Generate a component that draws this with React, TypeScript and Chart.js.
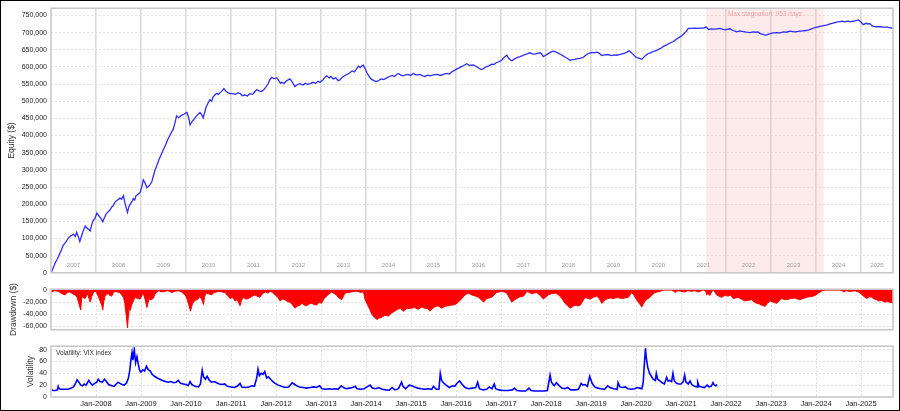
import React, { useEffect, useRef } from 'react';
import { Chart, registerables } from 'chart.js';

Chart.register(...registerables);

const FONT = '"Liberation Sans", Arial, Helvetica, sans-serif';
const X_START = 2007.0;
const X_END = 2025.71;

const yearBandLabels = ['2007', '2008', '2009', '2010', '2011', '2012', '2013', '2014', '2015', '2016', '2017', '2018', '2019', '2020', '2021', '2022', '2023', '2024', '2025'];
const gridYears = [2008, 2009, 2010, 2011, 2012, 2013, 2014, 2015, 2016, 2017, 2018, 2019, 2020, 2021, 2022, 2023, 2024, 2025];
const axisTickLabels = ['Jan-2008', 'Jan-2009', 'Jan-2010', 'Jan-2011', 'Jan-2012', 'Jan-2013', 'Jan-2014', 'Jan-2015', 'Jan-2016', 'Jan-2017', 'Jan-2018', 'Jan-2019', 'Jan-2020', 'Jan-2021', 'Jan-2022', 'Jan-2023', 'Jan-2024', 'Jan-2025'];

const equityTicks = [0, 50000, 100000, 150000, 200000, 250000, 300000, 350000, 400000, 450000, 500000, 550000, 600000, 650000, 700000, 750000];
const drawdownTicks = [-60000, -40000, -20000, 0];
const vixTicks = [0, 20, 40, 60, 80];

const stagnationRange = [2021.56, 2024.17];
const stagnationText = 'Max stagnation: 953 days';

const equityTitle = 'Equity ($)';
const drawdownTitle = 'Drawdown ($)';
const volatilityTitle = 'Volatility';
const volatilityLegend = 'Volatility: VIX index';

// equity in thousands of $ : [decimal year, value]
const equityK: [number, number][] = [
  [2007.00, 0], [2007.04, 12], [2007.09, 28], [2007.14, 40], [2007.18, 52], [2007.23, 66], [2007.27, 80], [2007.32, 88],
  [2007.36, 96], [2007.40, 103], [2007.44, 108], [2007.50, 112], [2007.54, 106], [2007.57, 118], [2007.61, 104], [2007.64, 91],
  [2007.68, 108], [2007.71, 120], [2007.76, 136], [2007.79, 131], [2007.82, 128], [2007.87, 122], [2007.90, 138], [2007.93, 150],
  [2007.98, 160], [2008.02, 174], [2008.07, 165], [2008.11, 158], [2008.15, 149], [2008.19, 162], [2008.22, 170], [2008.27, 178],
  [2008.31, 183], [2008.35, 192], [2008.38, 195], [2008.42, 205], [2008.46, 211], [2008.50, 214], [2008.53, 218], [2008.57, 214],
  [2008.61, 225], [2008.64, 205], [2008.67, 190], [2008.70, 176], [2008.73, 192], [2008.76, 200], [2008.80, 208], [2008.83, 216],
  [2008.86, 212], [2008.89, 225], [2008.93, 228], [2008.98, 234], [2009.02, 252], [2009.05, 271], [2009.09, 262], [2009.13, 248],
  [2009.17, 252], [2009.20, 257], [2009.24, 265], [2009.28, 285], [2009.31, 299], [2009.35, 312], [2009.40, 330], [2009.45, 345],
  [2009.50, 360], [2009.55, 374], [2009.60, 390], [2009.66, 405], [2009.72, 420], [2009.76, 440], [2009.79, 457], [2009.84, 452],
  [2009.89, 458], [2009.95, 462], [2010.02, 467], [2010.06, 452], [2010.09, 431], [2010.13, 440], [2010.18, 448], [2010.24, 458],
  [2010.31, 467], [2010.35, 460], [2010.38, 451], [2010.41, 465], [2010.44, 480], [2010.49, 495], [2010.53, 504], [2010.57, 500],
  [2010.60, 512], [2010.64, 518], [2010.68, 523], [2010.72, 520], [2010.76, 525], [2010.80, 530], [2010.84, 537], [2010.88, 530],
  [2010.93, 525], [2010.98, 522], [2011.04, 522], [2011.10, 520], [2011.15, 524], [2011.20, 523], [2011.25, 516], [2011.31, 518],
  [2011.36, 515], [2011.42, 522], [2011.48, 520], [2011.52, 526], [2011.57, 534], [2011.62, 530], [2011.67, 528], [2011.72, 532],
  [2011.77, 540], [2011.82, 550], [2011.86, 562], [2011.90, 569], [2011.95, 566], [2012.02, 568], [2012.06, 560], [2012.10, 552],
  [2012.13, 555], [2012.18, 552], [2012.22, 558], [2012.27, 562], [2012.31, 565], [2012.36, 556], [2012.42, 543], [2012.47, 548],
  [2012.53, 551], [2012.60, 547], [2012.65, 552], [2012.70, 549], [2012.76, 551], [2012.82, 555], [2012.88, 552], [2012.93, 558],
  [2012.98, 555], [2013.04, 562], [2013.09, 570], [2013.13, 574], [2013.18, 568], [2013.22, 572], [2013.27, 565], [2013.33, 568],
  [2013.38, 560], [2013.42, 562], [2013.47, 570], [2013.53, 575], [2013.58, 578], [2013.64, 583], [2013.69, 588], [2013.74, 585],
  [2013.79, 594], [2013.83, 602], [2013.87, 598], [2013.91, 603], [2013.94, 605], [2013.98, 595], [2014.02, 583], [2014.06, 574],
  [2014.11, 565], [2014.17, 560], [2014.24, 557], [2014.29, 561], [2014.33, 565], [2014.39, 563], [2014.46, 568], [2014.52, 572],
  [2014.58, 575], [2014.63, 572], [2014.68, 578], [2014.72, 581], [2014.77, 576], [2014.83, 574], [2014.88, 577], [2014.93, 578],
  [2014.99, 575], [2015.05, 581], [2015.12, 576], [2015.20, 578], [2015.26, 574], [2015.31, 572], [2015.36, 576], [2015.42, 574],
  [2015.50, 577], [2015.58, 578], [2015.66, 575], [2015.73, 579], [2015.79, 581], [2015.85, 579], [2015.91, 586], [2015.97, 590],
  [2016.02, 594], [2016.07, 597], [2016.11, 600], [2016.17, 604], [2016.24, 609], [2016.30, 604], [2016.38, 606], [2016.44, 602],
  [2016.49, 598], [2016.53, 594], [2016.57, 592], [2016.62, 596], [2016.67, 600], [2016.73, 603], [2016.79, 608], [2016.84, 607],
  [2016.89, 612], [2016.95, 615], [2017.02, 620], [2017.07, 628], [2017.13, 634], [2017.17, 625], [2017.21, 620], [2017.24, 618],
  [2017.31, 624], [2017.37, 628], [2017.42, 630], [2017.48, 633], [2017.53, 636], [2017.58, 638], [2017.64, 641], [2017.70, 638],
  [2017.76, 637], [2017.82, 640], [2017.87, 641], [2017.91, 636], [2017.94, 630], [2017.99, 634], [2018.04, 638], [2018.10, 643],
  [2018.16, 646], [2018.21, 644], [2018.27, 640], [2018.33, 636], [2018.38, 632], [2018.43, 628], [2018.47, 625], [2018.53, 619],
  [2018.58, 621], [2018.64, 622], [2018.70, 624], [2018.76, 625], [2018.83, 628], [2018.88, 634], [2018.94, 639], [2019.02, 642],
  [2019.07, 641], [2019.13, 643], [2019.18, 640], [2019.24, 633], [2019.30, 635], [2019.38, 636], [2019.45, 633], [2019.52, 635],
  [2019.57, 634], [2019.63, 636], [2019.69, 638], [2019.75, 640], [2019.80, 643], [2019.85, 647], [2019.91, 640], [2019.98, 630],
  [2020.04, 626], [2020.09, 624], [2020.13, 622], [2020.20, 632], [2020.27, 639], [2020.32, 641], [2020.36, 644], [2020.41, 646],
  [2020.46, 648], [2020.51, 652], [2020.56, 655], [2020.60, 659], [2020.64, 662], [2020.69, 665], [2020.73, 668], [2020.78, 671],
  [2020.83, 674], [2020.87, 678], [2020.91, 682], [2020.96, 686], [2021.01, 690], [2021.05, 695], [2021.09, 700], [2021.13, 706],
  [2021.16, 712], [2021.23, 712], [2021.31, 713], [2021.36, 712], [2021.42, 713], [2021.49, 713], [2021.56, 716], [2021.61, 709],
  [2021.67, 711], [2021.73, 710], [2021.80, 711], [2021.87, 712], [2021.93, 709], [2021.98, 708], [2022.04, 710], [2022.09, 711],
  [2022.15, 706], [2022.20, 704], [2022.24, 702], [2022.30, 705], [2022.38, 703], [2022.45, 701], [2022.53, 700], [2022.60, 702],
  [2022.66, 701], [2022.71, 702], [2022.76, 697], [2022.82, 695], [2022.87, 692], [2022.93, 695], [2022.98, 697], [2023.05, 699],
  [2023.13, 700], [2023.20, 699], [2023.27, 702], [2023.34, 701], [2023.42, 704], [2023.48, 703], [2023.53, 702], [2023.58, 703],
  [2023.64, 704], [2023.71, 705], [2023.78, 706], [2023.84, 708], [2023.90, 711], [2023.96, 714], [2024.02, 716], [2024.09, 718],
  [2024.16, 720], [2024.23, 722], [2024.31, 725], [2024.36, 727], [2024.42, 729], [2024.48, 731], [2024.53, 732], [2024.58, 733],
  [2024.64, 731], [2024.70, 733], [2024.76, 732], [2024.82, 733], [2024.87, 734], [2024.94, 737], [2024.97, 734], [2025.00, 730],
  [2025.05, 723], [2025.11, 727], [2025.16, 725], [2025.20, 726], [2025.24, 720], [2025.27, 718], [2025.34, 717], [2025.42, 717],
  [2025.50, 716], [2025.58, 716], [2025.65, 714], [2025.71, 713],
];

// drawdown in thousands of $ : [decimal year, value]
const drawdownK: [number, number][] = [
  [2007.00, 0], [2007.01, -3], [2007.08, -1], [2007.16, -2], [2007.22, -5], [2007.31, -8], [2007.36, -4], [2007.42, -3],
  [2007.48, -6], [2007.53, -8], [2007.58, -12], [2007.61, -20], [2007.66, -33], [2007.68, -15], [2007.70, -10], [2007.73, -13],
  [2007.76, -14], [2007.79, -9], [2007.81, -6], [2007.85, -15], [2007.87, -20], [2007.90, -12], [2007.92, -8], [2007.95, -3],
  [2007.98, -2], [2008.01, -4], [2008.05, -10], [2008.09, -18], [2008.13, -26], [2008.15, -33], [2008.17, -20], [2008.20, -10],
  [2008.24, -7], [2008.27, -6], [2008.31, -9], [2008.35, -10], [2008.38, -5], [2008.42, -2], [2008.47, -3], [2008.53, -4],
  [2008.57, -8], [2008.61, -12], [2008.64, -22], [2008.66, -35], [2008.68, -48], [2008.70, -63], [2008.72, -42], [2008.73, -30],
  [2008.76, -34], [2008.79, -25], [2008.83, -18], [2008.87, -12], [2008.92, -14], [2008.98, -15], [2009.02, -9], [2009.05, -5],
  [2009.09, -15], [2009.13, -29], [2009.16, -20], [2009.18, -15], [2009.22, -16], [2009.27, -14], [2009.31, -7], [2009.35, -3],
  [2009.40, -1], [2009.45, -3], [2009.53, -2], [2009.60, -1], [2009.68, -4], [2009.75, -2], [2009.83, -1], [2009.90, -3],
  [2009.98, -8], [2010.02, -14], [2010.06, -24], [2010.10, -35], [2010.13, -26], [2010.16, -20], [2010.21, -17], [2010.27, -15],
  [2010.31, -10], [2010.35, -16], [2010.39, -24], [2010.41, -12], [2010.44, -5], [2010.50, -6], [2010.57, -8], [2010.62, -4],
  [2010.68, -3], [2010.72, -2], [2010.80, -3], [2010.87, -4], [2010.92, -9], [2010.98, -14], [2011.03, -12], [2011.09, -18],
  [2011.14, -16], [2011.20, -26], [2011.23, -18], [2011.27, -12], [2011.33, -15], [2011.39, -14], [2011.45, -11], [2011.53, -8],
  [2011.58, -10], [2011.64, -12], [2011.70, -6], [2011.76, -3], [2011.82, -5], [2011.87, -2], [2011.93, -4], [2011.98, -8],
  [2012.04, -12], [2012.09, -18], [2012.14, -15], [2012.20, -16], [2012.25, -19], [2012.31, -20], [2012.36, -24], [2012.42, -30],
  [2012.47, -27], [2012.53, -25], [2012.58, -22], [2012.63, -25], [2012.68, -26], [2012.74, -23], [2012.79, -22], [2012.85, -24],
  [2012.90, -25], [2012.96, -20], [2013.01, -22], [2013.06, -15], [2013.10, -12], [2013.15, -8], [2013.20, -5], [2013.24, -3],
  [2013.30, -6], [2013.35, -9], [2013.38, -12], [2013.42, -14], [2013.46, -16], [2013.50, -10], [2013.53, -5], [2013.60, -4],
  [2013.68, -3], [2013.74, -2], [2013.79, -2], [2013.85, -3], [2013.90, -4], [2013.94, -2], [2013.98, -16], [2014.03, -24],
  [2014.09, -33], [2014.13, -40], [2014.16, -43], [2014.20, -46], [2014.24, -49], [2014.28, -47], [2014.35, -45], [2014.42, -42],
  [2014.50, -43], [2014.57, -38], [2014.64, -35], [2014.70, -32], [2014.76, -30], [2014.83, -35], [2014.90, -31], [2015.01, -30],
  [2015.08, -29], [2015.16, -32], [2015.24, -28], [2015.31, -30], [2015.37, -31], [2015.42, -35], [2015.48, -30], [2015.53, -28],
  [2015.60, -26], [2015.68, -30], [2015.75, -27], [2015.83, -26], [2015.90, -25], [2015.98, -24], [2016.05, -20], [2016.13, -14],
  [2016.20, -8], [2016.27, -5], [2016.35, -8], [2016.43, -10], [2016.50, -12], [2016.56, -16], [2016.61, -20], [2016.65, -17],
  [2016.68, -14], [2016.74, -13], [2016.79, -12], [2016.85, -8], [2016.90, -4], [2016.96, -3], [2017.01, -2], [2017.07, -3],
  [2017.13, -5], [2017.18, -12], [2017.24, -20], [2017.29, -17], [2017.35, -14], [2017.42, -11], [2017.50, -10], [2017.54, -6],
  [2017.57, -2], [2017.63, -4], [2017.68, -6], [2017.73, -5], [2017.79, -4], [2017.86, -8], [2017.94, -15], [2018.00, -11],
  [2018.05, -8], [2018.12, -6], [2018.20, -5], [2018.26, -7], [2018.31, -10], [2018.37, -16], [2018.42, -22], [2018.48, -26],
  [2018.53, -30], [2018.58, -28], [2018.64, -25], [2018.70, -26], [2018.76, -25], [2018.82, -18], [2018.87, -12], [2018.93, -14],
  [2018.98, -15], [2019.05, -12], [2019.13, -10], [2019.19, -15], [2019.24, -22], [2019.30, -17], [2019.35, -15], [2019.42, -13],
  [2019.50, -14], [2019.58, -12], [2019.68, -14], [2019.75, -13], [2019.83, -12], [2019.90, -4], [2019.95, -8], [2020.01, -16],
  [2020.06, -21], [2020.10, -25], [2020.13, -28], [2020.16, -23], [2020.20, -18], [2020.25, -15], [2020.31, -12], [2020.36, -8],
  [2020.42, -4], [2020.48, -3], [2020.53, -2], [2020.58, -1], [2020.61, 0], [2020.79, 0], [2020.84, -2], [2020.87, -4],
  [2020.90, -2], [2020.94, -1], [2021.00, -2], [2021.09, -3], [2021.15, -1], [2021.24, -2], [2021.30, -1], [2021.39, -3],
  [2021.45, -1], [2021.50, 0], [2021.55, -2], [2021.57, -8], [2021.60, -6], [2021.64, -9], [2021.68, -3], [2021.72, 0],
  [2021.76, -4], [2021.79, -8], [2021.84, -10], [2021.90, -12], [2021.97, -9], [2022.05, -10], [2022.10, -8], [2022.16, -14],
  [2022.22, -13], [2022.27, -12], [2022.34, -15], [2022.42, -18], [2022.50, -17], [2022.57, -16], [2022.63, -20], [2022.68, -22],
  [2022.74, -23], [2022.79, -25], [2022.87, -27], [2022.92, -22], [2022.98, -18], [2023.05, -20], [2023.13, -22], [2023.19, -17],
  [2023.24, -14], [2023.31, -16], [2023.39, -15], [2023.46, -14], [2023.53, -13], [2023.59, -15], [2023.64, -16], [2023.71, -14],
  [2023.79, -12], [2023.86, -11], [2023.94, -10], [2024.00, -8], [2024.05, -5], [2024.10, -3], [2024.13, -1], [2024.20, 0],
  [2024.53, 0], [2024.58, -1], [2024.61, -3], [2024.67, -1], [2024.73, -2], [2024.79, -2], [2024.86, -1], [2024.94, -3],
  [2025.00, -6], [2025.05, -10], [2025.09, -12], [2025.13, -14], [2025.18, -11], [2025.24, -12], [2025.30, -15], [2025.35, -16],
  [2025.39, -18], [2025.45, -17], [2025.53, -20], [2025.58, -19], [2025.64, -20], [2025.68, -21], [2025.71, -22],
];

// VIX index : [decimal year, value]
const vixIndex: [number, number][] = [
  [2007.00, 12], [2007.05, 11], [2007.10, 11], [2007.14, 12], [2007.16, 18], [2007.18, 14], [2007.22, 13], [2007.30, 13],
  [2007.38, 13], [2007.45, 15], [2007.50, 17], [2007.55, 24], [2007.58, 29], [2007.62, 25], [2007.66, 20], [2007.70, 19],
  [2007.74, 22], [2007.78, 20], [2007.84, 28], [2007.88, 23], [2007.92, 20], [2007.97, 23], [2008.02, 25], [2008.05, 30],
  [2008.09, 26], [2008.14, 25], [2008.19, 30], [2008.23, 26], [2008.28, 21], [2008.35, 19], [2008.40, 18], [2008.45, 22],
  [2008.49, 25], [2008.53, 23], [2008.58, 21], [2008.63, 20], [2008.68, 24], [2008.72, 32], [2008.75, 45], [2008.78, 65],
  [2008.80, 75], [2008.82, 62], [2008.85, 80], [2008.88, 58], [2008.91, 68], [2008.94, 55], [2008.97, 45], [2009.00, 42],
  [2009.04, 46], [2009.08, 44], [2009.12, 52], [2009.16, 46], [2009.20, 44], [2009.25, 38], [2009.30, 35], [2009.36, 32],
  [2009.42, 30], [2009.48, 28], [2009.54, 26], [2009.60, 25], [2009.66, 26], [2009.72, 24], [2009.78, 25], [2009.83, 28],
  [2009.88, 23], [2009.94, 22], [2010.00, 21], [2010.05, 19], [2010.09, 26], [2010.13, 21], [2010.20, 18], [2010.28, 17],
  [2010.32, 22], [2010.36, 45], [2010.39, 34], [2010.43, 30], [2010.47, 35], [2010.52, 28], [2010.57, 25], [2010.63, 26],
  [2010.68, 24], [2010.74, 22], [2010.80, 21], [2010.86, 22], [2010.92, 18], [2011.00, 17], [2011.08, 16], [2011.15, 19],
  [2011.20, 23], [2011.24, 17], [2011.32, 16], [2011.40, 17], [2011.46, 19], [2011.52, 18], [2011.57, 32], [2011.60, 47],
  [2011.63, 36], [2011.67, 40], [2011.71, 38], [2011.75, 43], [2011.79, 32], [2011.83, 34], [2011.88, 30], [2011.93, 26],
  [2011.98, 23], [2012.05, 20], [2012.12, 18], [2012.20, 16], [2012.28, 17], [2012.36, 24], [2012.40, 22], [2012.46, 19],
  [2012.52, 17], [2012.60, 16], [2012.68, 15], [2012.76, 16], [2012.84, 17], [2012.90, 16], [2012.97, 19], [2013.02, 14],
  [2013.10, 13], [2013.18, 14], [2013.25, 13], [2013.32, 14], [2013.38, 13], [2013.45, 19], [2013.50, 16], [2013.56, 14],
  [2013.63, 15], [2013.70, 16], [2013.76, 18], [2013.80, 14], [2013.88, 13], [2013.96, 14], [2014.04, 18], [2014.09, 20],
  [2014.14, 15], [2014.22, 14], [2014.28, 16], [2014.36, 13], [2014.44, 12], [2014.52, 11.5], [2014.58, 16], [2014.64, 12],
  [2014.72, 14], [2014.79, 25], [2014.82, 18], [2014.88, 14], [2014.96, 20], [2015.02, 19], [2015.08, 17], [2015.15, 15],
  [2015.22, 14], [2015.30, 13], [2015.38, 14], [2015.46, 13], [2015.50, 18], [2015.56, 13], [2015.62, 13], [2015.65, 40],
  [2015.68, 28], [2015.72, 24], [2015.78, 20], [2015.85, 16], [2015.92, 19], [2015.97, 18], [2016.03, 24], [2016.08, 27],
  [2016.13, 22], [2016.20, 16], [2016.28, 14], [2016.36, 15], [2016.44, 16], [2016.48, 25], [2016.52, 14], [2016.60, 12],
  [2016.68, 13], [2016.74, 17], [2016.80, 14], [2016.85, 22], [2016.88, 14], [2016.95, 12], [2017.05, 11], [2017.15, 11],
  [2017.25, 12], [2017.30, 15], [2017.35, 11], [2017.45, 10], [2017.55, 10], [2017.62, 15], [2017.67, 11], [2017.75, 10],
  [2017.85, 10], [2017.95, 10], [2018.03, 11], [2018.09, 37], [2018.12, 25], [2018.18, 19], [2018.23, 24], [2018.28, 20],
  [2018.35, 15], [2018.42, 14], [2018.48, 16], [2018.55, 12], [2018.65, 12], [2018.72, 13], [2018.78, 23], [2018.82, 20],
  [2018.87, 21], [2018.92, 18], [2018.97, 35], [2019.02, 24], [2019.08, 17], [2019.15, 15], [2019.22, 14], [2019.30, 13],
  [2019.37, 19], [2019.42, 16], [2019.50, 14], [2019.58, 13], [2019.60, 24], [2019.64, 17], [2019.70, 16], [2019.76, 17],
  [2019.82, 14], [2019.90, 13], [2019.97, 14], [2020.03, 16], [2020.08, 15], [2020.13, 14], [2020.16, 25], [2020.18, 50],
  [2020.21, 82], [2020.23, 65], [2020.26, 50], [2020.30, 40], [2020.34, 35], [2020.38, 30], [2020.43, 28], [2020.45, 40],
  [2020.48, 30], [2020.53, 27], [2020.58, 24], [2020.63, 22], [2020.68, 33], [2020.71, 27], [2020.75, 28], [2020.79, 26],
  [2020.82, 40], [2020.85, 27], [2020.90, 23], [2020.95, 22], [2021.00, 22], [2021.05, 26], [2021.08, 37], [2021.11, 25],
  [2021.16, 22], [2021.20, 27], [2021.24, 21], [2021.30, 18], [2021.36, 17], [2021.37, 25], [2021.40, 18], [2021.46, 17],
  [2021.52, 16], [2021.58, 20], [2021.62, 17], [2021.67, 18], [2021.71, 24], [2021.74, 20], [2021.78, 19], [2021.80, 21],
];

const fmtNumber = (v: number) => Number(v).toLocaleString('en-US');

const framePlugin = {
  id: 'panelFrame',
  afterDraw(chart: any) {
    const { ctx, chartArea: a } = chart;
    ctx.save();
    ctx.strokeStyle = '#c6c6c6';
    ctx.lineWidth = 1.5;
    ctx.strokeRect(a.left, a.top, a.right - a.left, a.bottom - a.top);
    ctx.restore();
  },
};

const sideTitlePlugin = {
  id: 'sideTitle',
  afterDraw(chart: any, _args: any, opts: any) {
    const { ctx, chartArea: a } = chart;
    ctx.save();
    ctx.translate(opts.x, (a.top + a.bottom) / 2);
    ctx.rotate(-Math.PI / 2);
    ctx.font = `8.5px ${FONT}`;
    ctx.fillStyle = '#333';
    ctx.textAlign = 'center';
    ctx.textBaseline = 'middle';
    ctx.fillText(opts.text, 0, 0);
    ctx.restore();
  },
};

const stagnationPlugin = {
  id: 'stagnation',
  beforeDatasetsDraw(chart: any) {
    const { ctx, chartArea: a, scales } = chart;
    const x0 = scales.x.getPixelForValue(stagnationRange[0]);
    const x1 = scales.x.getPixelForValue(stagnationRange[1]);
    ctx.save();
    ctx.fillStyle = 'rgba(248,190,190,0.3)';
    ctx.fillRect(x0, a.top, x1 - x0, a.bottom - a.top);
    ctx.font = `6.5px ${FONT}`;
    ctx.fillStyle = '#f3a3a3';
    ctx.textAlign = 'center';
    ctx.textBaseline = 'middle';
    ctx.fillText(stagnationText, (x0 + x1) / 2, a.top + 6);
    ctx.restore();
  },
};

const yearBandPlugin = {
  id: 'yearBands',
  beforeDatasetsDraw(chart: any) {
    const { ctx, chartArea: a, scales } = chart;
    ctx.save();
    ctx.font = `6px ${FONT}`;
    ctx.fillStyle = '#9a9a9a';
    ctx.textAlign = 'center';
    ctx.textBaseline = 'middle';
    yearBandLabels.forEach((label) => {
      const start = Number(label);
      const end = Math.min(start + 1, X_END);
      const cx = scales.x.getPixelForValue((start + end) / 2);
      ctx.fillText(label, cx, a.bottom - 7);
    });
    ctx.restore();
  },
};

const legendTextPlugin = {
  id: 'legendText',
  afterDatasetsDraw(chart: any) {
    const { ctx, chartArea: a } = chart;
    ctx.save();
    ctx.font = `6.5px ${FONT}`;
    ctx.fillStyle = '#333';
    ctx.textAlign = 'left';
    ctx.textBaseline = 'middle';
    ctx.fillText(volatilityLegend, a.left + 5, a.top + 7);
    ctx.restore();
  },
};

function xScale(dashed: boolean, showLabels: boolean) {
  return {
    type: 'linear',
    min: X_START,
    max: X_END,
    afterBuildTicks: (s: any) => {
      s.ticks = gridYears.map((v) => ({ value: v }));
    },
    afterFit: (s: any) => {
      s.height = showLabels ? 14 : 0;
    },
    grid: {
      color: dashed ? '#dcdcdc' : '#dadada',
      lineWidth: dashed ? 1 : 1.6,
      drawTicks: false,
    },
    border: { display: false, dash: dashed ? [2, 2] : [] },
    ticks: {
      display: showLabels,
      autoSkip: false,
      maxRotation: 0,
      minRotation: 0,
      padding: 2,
      color: '#222',
      font: { family: FONT, size: 7.5 },
      callback: (_v: any, i: number) => axisTickLabels[i] ?? '',
    },
  };
}

function yScale(min: number, max: number, tickValues: number[]) {
  return {
    min,
    max,
    afterBuildTicks: (s: any) => {
      s.ticks = tickValues.map((v) => ({ value: v }));
    },
    afterFit: (s: any) => {
      s.width = 51;
    },
    grid: { color: '#e2e2e2', lineWidth: 1, drawTicks: false },
    border: { display: false, dash: [2, 2] },
    ticks: {
      autoSkip: false,
      padding: 4,
      color: '#222',
      font: { family: FONT, size: 7 },
      callback: (v: any) => fmtNumber(v),
    },
  };
}

const baseOptions = {
  responsive: false,
  animation: false,
  events: [],
};

export default function App() {
  const eqRef = useRef<HTMLCanvasElement>(null);
  const ddRef = useRef<HTMLCanvasElement>(null);
  const vxRef = useRef<HTMLCanvasElement>(null);

  useEffect(() => {
    const charts: Chart[] = [];

    charts.push(
      new Chart(eqRef.current!, {
        type: 'line',
        data: {
          datasets: [
            {
              data: equityK.map(([x, v]) => ({ x, y: v * 1000 })),
              borderColor: 'rgb(45,45,255)',
              borderWidth: 1.3,
              pointRadius: 0,
              tension: 0,
            },
          ],
        },
        options: {
          ...baseOptions,
          layout: { padding: { top: 5, right: 7, bottom: 0, left: 0 } },
          scales: { x: xScale(false, false), y: yScale(0, 771000, equityTicks) },
          plugins: {
            legend: { display: false },
            tooltip: { enabled: false },
            sideTitle: { text: equityTitle, x: 12 },
          },
        } as any,
        plugins: [stagnationPlugin, yearBandPlugin, sideTitlePlugin, framePlugin],
      })
    );

    charts.push(
      new Chart(ddRef.current!, {
        type: 'line',
        data: {
          datasets: [
            {
              data: drawdownK.map(([x, v]) => ({ x, y: v * 1000 })),
              borderColor: '#ff0000',
              backgroundColor: '#ff0000',
              borderWidth: 1,
              pointRadius: 0,
              tension: 0,
              fill: 'origin',
            },
          ],
        },
        options: {
          ...baseOptions,
          layout: { padding: { top: 2, right: 7, bottom: 0, left: 0 } },
          scales: { x: xScale(true, false), y: yScale(-66000, 1500, drawdownTicks) },
          plugins: {
            legend: { display: false },
            tooltip: { enabled: false },
            sideTitle: { text: drawdownTitle, x: 14 },
          },
        } as any,
        plugins: [sideTitlePlugin, framePlugin],
      })
    );

    charts.push(
      new Chart(vxRef.current!, {
        type: 'line',
        data: {
          datasets: [
            {
              data: vixIndex.map(([x, v]) => ({ x, y: v })),
              borderColor: '#0000ff',
              borderWidth: 1.6,
              pointRadius: 0,
              tension: 0,
            },
          ],
        },
        options: {
          ...baseOptions,
          layout: { padding: { top: 5, right: 7, bottom: 0, left: 0 } },
          scales: { x: xScale(true, true), y: yScale(0, 85.7, vixTicks) },
          plugins: {
            legend: { display: false },
            tooltip: { enabled: false },
            sideTitle: { text: volatilityTitle, x: 31 },
          },
        } as any,
        plugins: [legendTextPlugin, sideTitlePlugin, framePlugin],
      })
    );

    return () => charts.forEach((c) => c.destroy());
  }, []);

  const canvasStyle = (top: number): React.CSSProperties => ({
    position: 'absolute',
    left: 0,
    top,
    display: 'block',
  });

  return (
    <div
      style={{
        position: 'fixed',
        left: 0,
        top: 0,
        width: 900,
        height: 411,
        background: '#fff',
        overflow: 'hidden',
      }}
    >
      <canvas ref={eqRef} width={900} height={281} style={canvasStyle(0)} />
      <canvas ref={ddRef} width={900} height={57} style={canvasStyle(281)} />
      <canvas ref={vxRef} width={900} height={73} style={canvasStyle(338)} />
      <div
        style={{
          position: 'absolute',
          left: 0,
          top: 0,
          width: 900,
          height: 411,
          boxSizing: 'border-box',
          border: '1px solid #000',
          pointerEvents: 'none',
        }}
      />
    </div>
  );
}
